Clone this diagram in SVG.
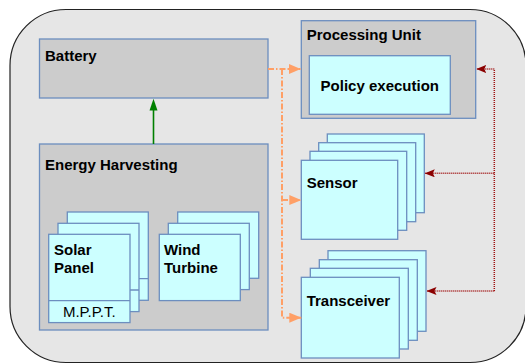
<svg xmlns="http://www.w3.org/2000/svg" width="525" height="364" viewBox="0 0 525 364">
<defs>
<style>
text{font-family:"Liberation Sans",Arial,sans-serif;font-size:15px;fill:#000}
.b{font-weight:bold}
.g{fill:#cccccc;stroke:#6c8ebf;stroke-width:1.3}
.c{fill:#ccffff;stroke:#6c8ebf;stroke-width:1.3}
.or{fill:none;stroke:#ff9f66;stroke-width:2;stroke-dasharray:6,2,1.5,2}
.dr{fill:none;stroke:#a01010;stroke-width:1.5;stroke-dasharray:1,1}
</style>
<marker id="ao" viewBox="0 0 12 10" refX="12" refY="5" markerWidth="12" markerHeight="10" markerUnits="userSpaceOnUse" orient="auto"><path d="M0,0L12,5L0,10Z" fill="#ff9f66"/></marker>
<marker id="ar" viewBox="0 0 10 8" refX="10" refY="4" markerWidth="10" markerHeight="8" markerUnits="userSpaceOnUse" orient="auto"><path d="M0,0L10,4L0,8L2,4Z" fill="#8b0000"/></marker>
</defs>
<rect x="10" y="9.5" width="516" height="353" rx="56" fill="#e6e6e6" stroke="#222" stroke-width="1.2"/>
<g id="battery"><rect class="g" x="39.5" y="39" width="228.5" height="59"/><text class="b" x="45" y="61">Battery</text></g>
<g id="energy-harvesting"><rect class="g" x="39.5" y="144" width="228.5" height="186"/><text class="b" x="45" y="170">Energy Harvesting</text></g>
<g id="solar-panel">
<rect class="c" x="67.3" y="212" width="81" height="88.3"/>
<line x1="67.3" y1="278.7" x2="148.3" y2="278.7" stroke="#6c8ebf" stroke-width="1.3"/>
<rect class="c" x="58" y="223.3" width="81" height="88.3"/>
<line x1="58" y1="290" x2="139" y2="290" stroke="#6c8ebf" stroke-width="1.3"/>
<rect class="c" x="48.7" y="234.3" width="81.3" height="88.3"/>
<line x1="48.7" y1="300.7" x2="130" y2="300.7" stroke="#6c8ebf" stroke-width="1.3"/>
<text class="b" x="54" y="255">Solar</text><text class="b" x="54" y="272.7">Panel</text>
<text x="89.3" y="317" text-anchor="middle">M.P.P.T.</text>
</g>
<g id="wind-turbine">
<rect class="c" x="177.7" y="212" width="81" height="66.3"/>
<rect class="c" x="168.3" y="223.3" width="81" height="66.3"/>
<rect class="c" x="159.3" y="234.3" width="81" height="66.3"/>
<text class="b" x="164" y="255">Wind</text><text class="b" x="164" y="272.7">Turbine</text>
</g>
<g id="processing-unit"><rect class="g" x="301.3" y="20.7" width="174.4" height="97.6"/><text class="b" x="306.7" y="40">Processing Unit</text></g>
<g id="policy-execution"><rect class="c" x="309.3" y="55.7" width="141" height="58.6"/><text class="b" x="379.8" y="91" text-anchor="middle">Policy execution</text></g>
<g id="sensor">
<rect class="c" x="327.3" y="134" width="97" height="78.7"/>
<rect class="c" x="318.7" y="142.7" width="97" height="79"/>
<rect class="c" x="310" y="151.3" width="96.7" height="79"/>
<rect class="c" x="301.3" y="160.3" width="96.4" height="79"/>
<text class="b" x="306.7" y="188">Sensor</text>
</g>
<g id="transceiver">
<rect class="c" x="328" y="250.7" width="98" height="80.6"/>
<rect class="c" x="319.3" y="259.7" width="98" height="80.6"/>
<rect class="c" x="310.3" y="268.3" width="98" height="80.7"/>
<rect class="c" x="301.3" y="277.3" width="98" height="80.7"/>
<text class="b" x="306.7" y="306">Transceiver</text>
</g>
<g id="connectors">
<line x1="153.5" y1="144" x2="153.5" y2="108" stroke="#008000" stroke-width="1.6"/>
<path d="M153.5,98.7L157.5,110.5H149.5Z" fill="#008000"/>
<path class="or" d="M268,69H300.7" marker-end="url(#ao)"/>
<path class="or" d="M282,69V317.7H301.3" marker-end="url(#ao)"/>
<path class="or" d="M282,200H301.3" marker-end="url(#ao)"/>
<path class="dr" d="M494.3,291V69H476.3" marker-end="url(#ar)"/>
<path class="dr" d="M494.3,173.3H424.8" marker-end="url(#ar)"/>
<path class="dr" d="M494.3,291H426.5" marker-end="url(#ar)"/>
</g>
</svg>
